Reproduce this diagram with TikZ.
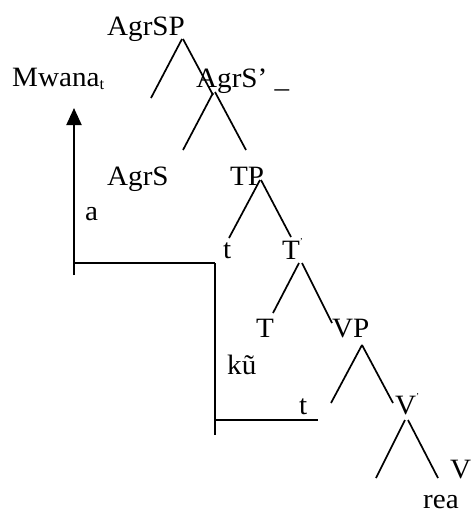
\documentclass[tikz,border=0pt]{standalone}
\usepackage{fontspec}
\setmainfont{Liberation Serif}[FakeStretch=1.04]
\usetikzlibrary{arrows.meta}
\begin{document}
\begin{tikzpicture}[x=1pt,y=-1pt,
  lbl/.style={anchor=base west,inner sep=0pt,font=\fontsize{28}{32}\selectfont},
  branch/.style={line width=1.7pt},
  move/.style={line width=2pt}]
\useasboundingbox (0,0) rectangle (471,514);
% labels
\node[lbl] (agrsp) at (107,35) {AgrSP};
\node[lbl] (mwana) at (12,86) {Mwana\raisebox{-3pt}{\fontsize{16}{17}\selectfont t}};
\node[lbl] (agrsbar) at (196,87) {AgrS’ \_};
\node[lbl] (agrs) at (107,185) {AgrS};
\node[lbl] (tp) at (230,185) {TP};
\node[lbl] (a) at (85,220) {a};
\node[lbl] (t1) at (223,258) {t};
\node[lbl] (tbar) at (282,259) {T\raisebox{15pt}{\fontsize{9}{10}\selectfont ’}};
\node[lbl] (thead) at (256,337) {T};
\node[lbl] (vp) at (332,337) {VP};
\node[lbl] (ku) at (227,374) {kũ};
\node[lbl] (t2) at (299,414) {t};
\node[lbl] (vbar) at (395,414) {V\raisebox{15pt}{\fontsize{9}{10}\selectfont ’}};
\node[lbl] (vhead) at (450,478) {V};
\node[lbl] (rea) at (423,508) {rea};
% branch points
\coordinate (b1a) at (182,39); \coordinate (b1b) at (151,98);
\coordinate (b2a) at (183,39); \coordinate (b2b) at (213,95);
\coordinate (b3a) at (213,93); \coordinate (b3b) at (183,150);
\coordinate (b4a) at (215,92); \coordinate (b4b) at (246,150);
\coordinate (b5a) at (260,180); \coordinate (b5b) at (229,238);
\coordinate (b6a) at (261,180); \coordinate (b6b) at (291,237);
\coordinate (b7a) at (299,263); \coordinate (b7b) at (273,313);
\coordinate (b8a) at (302,263); \coordinate (b8b) at (332,323);
\coordinate (b9a) at (362,345); \coordinate (b9b) at (331,403);
\coordinate (b10b) at (393,403);
\coordinate (b11a) at (405,420); \coordinate (b11b) at (376,478);
\coordinate (b12a) at (408,420); \coordinate (b12b) at (438,478);
\draw[branch] (b1a) -- (b1b);
\draw[branch] (b2a) -- (b2b);
\draw[branch] (b3a) -- (b3b);
\draw[branch] (b4a) -- (b4b);
\draw[branch] (b5a) -- (b5b);
\draw[branch] (b6a) -- (b6b);
\draw[branch] (b7a) -- (b7b);
\draw[branch] (b8a) -- (b8b);
\draw[branch] (b9a) -- (b9b);
\draw[branch] (b9a) -- (b10b);
\draw[branch] (b11a) -- (b11b);
\draw[branch] (b12a) -- (b12b);
% movement lines
\coordinate (m1) at (74,275); \coordinate (m2) at (74,108);
\coordinate (m3) at (74,263); \coordinate (m4) at (215,263);
\coordinate (m5) at (215,435); \coordinate (m6) at (215,420);
\coordinate (m7) at (318,420);
\draw[move,-{Triangle[length=17pt,width=15pt]}] (m1) -- (m2);
\draw[move] (m3) -- (m4);
\draw[move] (m4) -- (m5);
\draw[move] (m6) -- (m7);
\end{tikzpicture}
\end{document}
